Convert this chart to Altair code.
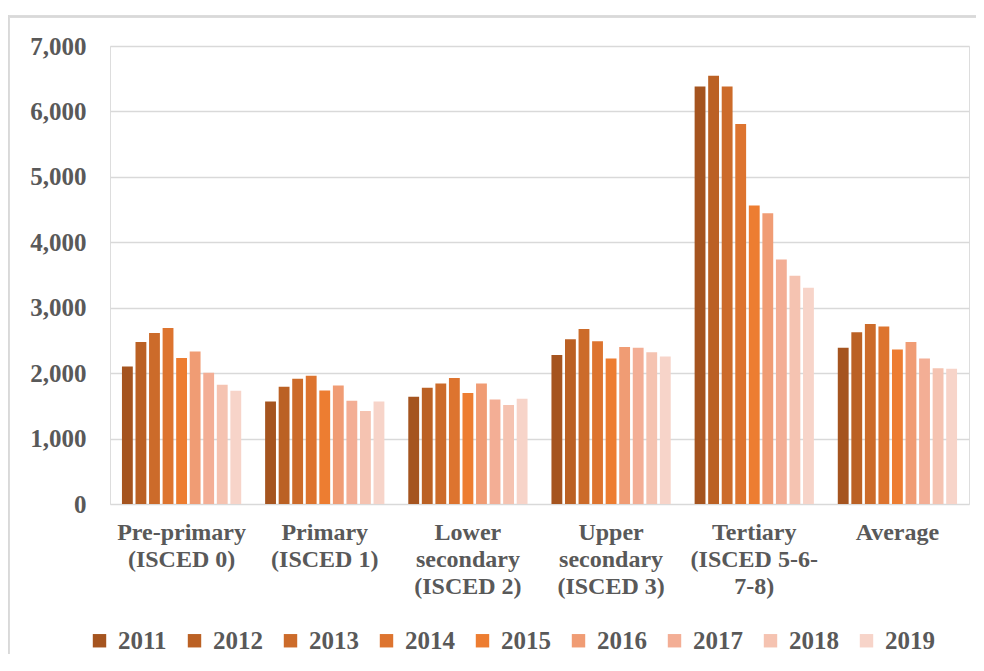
import altair as alt
import pandas as pd

categories = [
    "Pre-primary|(ISCED 0)",
    "Primary|(ISCED 1)",
    "Lower|secondary|(ISCED 2)",
    "Upper|secondary|(ISCED 3)",
    "Tertiary|(ISCED 5-6-|7-8)",
    "Average",
]
years = ["2011", "2012", "2013", "2014", "2015", "2016", "2017", "2018", "2019"]

pre_primary = [2100, 2477, 2614, 2690, 2233, 2330, 2005, 1822, 1730]
primary = [1567, 1791, 1913, 1959, 1735, 1811, 1578, 1421, 1567]
lower_secondary = [1639, 1776, 1841, 1924, 1695, 1841, 1598, 1512, 1608]
upper_secondary = [2279, 2518, 2675, 2488, 2223, 2401, 2390, 2320, 2253]
tertiary = [6382, 6546, 6382, 5807, 4561, 4443, 3738, 3488, 3305]
average = [2390, 2625, 2752, 2711, 2360, 2477, 2223, 2076, 2066]

colors = ["#A5541F", "#BB6124", "#CC6B2A", "#DD742F", "#ED7D31",
          "#F09C74", "#F3AE95", "#F5C3B1", "#F7D4C9"]

series = [pre_primary, primary, lower_secondary, upper_secondary, tertiary, average]
rows = []
for cat, vals in zip(categories, series):
    for y, v in zip(years, vals):
        rows.append({"category": cat, "year": y, "value": v})
df = pd.DataFrame(rows)

FONT = "Liberation Serif"
TXT = "#595959"

bars = alt.Chart(df).mark_bar().encode(
    x=alt.X("category:N", sort=categories,
            scale=alt.Scale(paddingInner=0.167, paddingOuter=0.0835),
            axis=alt.Axis(title=None, labelAngle=0, domain=False, ticks=False,
                          labelExpr="split(datum.label, '|')",
                          labelFont=FONT, labelFontWeight="bold", labelFontSize=24,
                          labelColor=TXT, labelLineHeight=27, labelPadding=16)),
    xOffset=alt.XOffset("year:N", sort=years,
                        scale=alt.Scale(paddingInner=0.2, paddingOuter=0)),
    y=alt.Y("value:Q", scale=alt.Scale(domain=[0, 7000], nice=False),
            axis=alt.Axis(title=None, values=[0, 1000, 2000, 3000, 4000, 5000, 6000, 7000],
                          format=",d", domain=False, ticks=False,
                          labelFont=FONT, labelFontWeight="bold", labelFontSize=25,
                          labelColor=TXT, labelPadding=24,
                          gridColor="#d9d9d9", gridWidth=1.5)),
    color=alt.Color("year:N", sort=years,
                    scale=alt.Scale(domain=years, range=colors),
                    legend=alt.Legend(title=None, orient="none", direction="horizontal",
                                      columns=9, legendX=-23, legendY=582,
                                      symbolType="square", symbolSize=180,
                                      symbolStrokeWidth=0, labelOffset=6,
                                      columnPadding=15,
                                      labelFont=FONT, labelFontWeight="bold",
                                      labelFontSize=25, labelColor=TXT)),
)

frame_left = alt.Chart(df).mark_rule(color="#d9d9d9", strokeWidth=1.5).encode(
    x=alt.value(-101.5), y=alt.value(-30), y2=alt.value(700))
frame_top = alt.Chart(df).mark_rule(color="#d9d9d9", strokeWidth=1.5).encode(
    x=alt.value(-101.5), x2=alt.value(900), y=alt.value(-29.5))

chart = alt.layer(frame_left, frame_top, bars).properties(
    width=859, height=458,
    autosize=alt.AutoSizeParams(type="none"),
    padding={"left": 102, "top": 38, "right": 7, "bottom": 150},
).configure_view(stroke=None).configure(background="white")

chart.save("out.html", embed_options={"renderer": "svg", "actions": False})
